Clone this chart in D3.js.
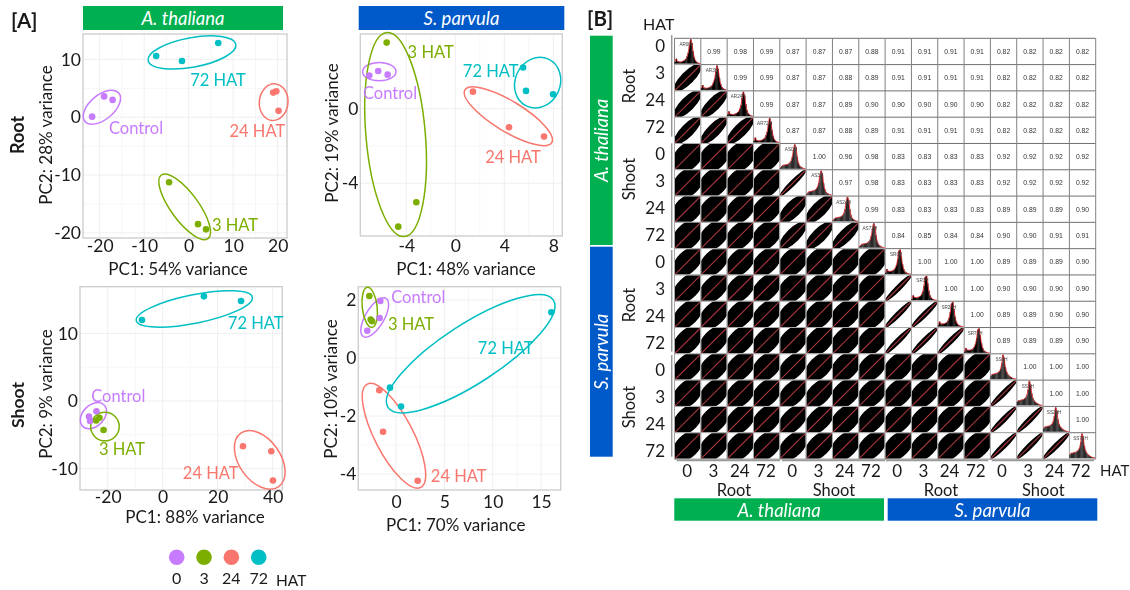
<!DOCTYPE html>
<html><head><meta charset="utf-8">
<script src="https://cdn.jsdelivr.net/npm/d3@7"></script>
<style>
html,body{margin:0;padding:0;background:#fff}
svg{display:block;filter:blur(0.35px)}
text{font-family:Lato,"Open Sans",sans-serif;fill:#1a1a1a}
.mat text{font-family:"Liberation Sans",Arial,sans-serif}
</style></head><body>
<div id="chart"></div>
<script>
// ---------- DATA ----------
const groups = ["Control","3 HAT","24 HAT","72 HAT"];
const legendLabels = ["0","3","24","72"];
const groupColors = ["#C77CFF","#7CAE00","#F8766D","#00BFC4"];

// PCA scores [PC1, PC2], three replicates per group, order as in `groups`
const thalianaRootScores = [
  [[-21.7,0.1],[-19.0,3.6],[-17.1,3.0]],
  [[-4.4,-11.25],[2.1,-18.5],[3.9,-19.4]],
  [[19.0,4.26],[19.7,4.5],[20.2,1.1]],
  [[-7.3,10.6],[-1.5,9.74],[6.65,12.85]]];
const parvulaRootScores = [
  [[-7.02,1.77],[-6.29,2.02],[-5.52,1.82]],
  [[-5.6,3.54],[-3.18,-5.02],[-4.65,-6.33]],
  [[1.44,0.91],[4.38,-1.0],[7.24,-1.5]],
  [[5.53,2.2],[5.77,0.95],[7.98,0.77]]];
const thalianaShootScores = [
  [[-26.8,-2.32],[-26.4,-2.96],[-24.1,-1.53]],
  [[-24.2,-2.9],[-23.0,-2.5],[-21.5,-4.3]],
  [[29.2,-6.72],[39.5,-7.46],[40.1,-11.8]],
  [[-7.53,12.0],[15.0,15.5],[28.5,14.8]]];
const parvulaShootScores = [
  [[-1.62,1.97],[-1.69,1.38],[-2.97,0.94]],
  [[-2.76,2.14],[-2.62,1.33],[-2.48,1.27]],
  [[-1.73,-1.11],[-1.34,-2.54],[2.24,-4.23]],
  [[16.06,1.58],[-0.62,-1.02],[0.52,-1.67]]];

// Hand-drawn group ellipses: centre PC1, PC2, major-axis tip PC1, PC2, minor/major ratio
const thalianaRootEllipses = [[-19.5,1.73,-15.7,4.2,.55],[-0.9,-15.5,4.34,-21.0,.35],[19.1,2.6,19.5,5.76,.78],[0.74,11.2,10.6,12.6,.33]];
const parvulaRootEllipses = [[-6.2,1.98,-4.84,1.98,.55],[-4.87,-1.39,-4.16,-6.86,.29],[4.33,-0.41,7.87,-1.82,.3],[6.72,1.39,7.6,2.65,.87]];
const thalianaShootEllipses = [[-25.2,-2.18,-21.3,-0.59,.7],[-21,-3.8,-15.8,-3.8,1],[35.3,-8.74,42.2,-12.7,.63],[11.5,13.63,32.6,15.36,.24]];
const parvulaShootEllipses = [[-2.2,1.4,-1.03,2.06,.42],[-2.72,1.75,-2.48,1.06,.37],[-0.21,-2.68,2.55,-4.46,.33],[7.72,0.15,16.27,2.0,.3]];

const sampleNames = ["AR0H","AR3H","AR24H","AR72H","AS0H","AS3H","AS24H","AS72H","SR0H","SR3H","SR24H","SR72H","SS0H","SS3H","SS24H","SS72H"];
const hourLabels = ["0","3","24","72"];
// Upper triangle of the correlation matrix, row by row
const corrUpper = [
  [.99,.98,.99,.87,.87,.87,.88,.91,.91,.91,.91,.82,.82,.82,.82],
  [.99,.99,.87,.87,.88,.89,.91,.91,.91,.91,.82,.82,.82,.82],
  [.99,.87,.87,.89,.90,.90,.90,.90,.90,.82,.82,.82,.82],
  [.87,.87,.88,.89,.91,.91,.91,.91,.82,.82,.82,.82],
  [1.00,.96,.98,.83,.83,.83,.83,.92,.92,.92,.92],
  [.97,.98,.83,.83,.83,.83,.92,.92,.92,.92],
  [.99,.83,.83,.83,.83,.89,.89,.89,.90],
  [.84,.85,.84,.84,.90,.90,.91,.91],
  [1.00,1.00,1.00,.89,.89,.89,.90],
  [1.00,1.00,.90,.90,.90,.90],
  [1.00,.89,.89,.90,.90],
  [.89,.89,.89,.90],
  [1.00,1.00,1.00],
  [1.00,1.00],
  [1.00]];
// Relative histogram heights on the diagonal, one profile per tissue
const histThalianaRoot = [.07,.2,.09,.08,.07,.07,.09,.11,.14,.19,.3,.45,.75,1,.85,.5,.25,.12,.06,.03,.01,0];
const histThalianaShoot = [.04,.1,.14,.15,.16,.17,.18,.21,.25,.33,.5,.8,1,.88,.5,.25,.13,.08,.05,.02,.01,0];
const histParvulaRoot = [.05,.2,.12,.11,.11,.12,.14,.17,.24,.36,.6,.95,1,.72,.4,.2,.1,.05,.03,.01,0,0];
const histParvulaShoot = [.14,.2,.2,.22,.23,.24,.28,.32,.42,.65,1,.85,.5,.3,.2,.14,.1,.07,.04,.02,.01,0];

// ---------- LAYOUT ----------
const panels = [
 {scores:thalianaRootScores, ell:thalianaRootEllipses, rect:[83,287,34,238], xd:[-23.75,22.1], yd:[14.4,-20.9],
  xt:[-20,-10,0,10,20], yt:[10,0,-10,-20], xTitle:"PC1: 54% variance", yTitle:"PC2: 28% variance",
  xTitlePos:[178,268], yTitlePos:[45,135], xLabY:248,
  labels:[[136,128],[235,225],[257.3,131],[218,79.7]]},
 {scores:parvulaRootScores, ell:parvulaRootEllipses, rect:[360.3,562.3,34,236], xd:[-7.75,8.73], yd:[4.0,-6.83],
  xt:[-4,0,4,8], yt:[0,-4], xTitle:"PC1: 48% variance", yTitle:"PC2: 19% variance",
  xTitlePos:[466,268], yTitlePos:[331,133], xLabY:248,
  labels:[[390,93],[430.7,52],[513,157],[490.7,70.7]]},
 {scores:thalianaShootScores, ell:thalianaShootEllipses, rect:[80,282.3,286.7,490], xd:[-30.07,43.5], yd:[16.93,-13.2],
  xt:[-20,0,20,40], yt:[10,0,-10], xTitle:"PC1: 88% variance", yTitle:"PC2: 9% variance",
  xTitlePos:[195,516], yTitlePos:[45,394], xLabY:499,
  labels:[[118.3,395.7],[122,449.3],[210.7,473.3],[255.7,322.7]]},
 {scores:parvulaShootScores, ell:parvulaShootEllipses, rect:[358.3,560.7,286.7,490], xd:[-3.9,17.03], yd:[2.46,-4.55],
  xt:[0,5,10,15], yt:[2,0,-2,-4], xTitle:"PC1: 70% variance", yTitle:"PC2: 10% variance",
  xTitlePos:[455.7,524.3], yTitlePos:[330,389], xLabY:504,
  labels:[[418.3,296.7],[411,324.3],[458.7,475.7],[505.7,348.3]]}
];
const GREEN="#00B050", BLUE="#0059C9";
const strips = [
 [83,6,200,24,GREEN,"A. thaliana",0],[358.7,6,205.6,24,BLUE,"S. parvula",0],
 [590,35.7,22.7,209.3,GREEN,"A. thaliana",1],[590,246.7,22.7,210,BLUE,"S. parvula",1],
 [674.3,498.3,209.7,22.4,GREEN,"A. thaliana",0],[887.7,498.3,209.6,22.4,BLUE,"S. parvula",0]];

const svg = d3.select("#chart").append("svg").attr("width",1130).attr("height",590);
const txt = (x,y,s,size,o={})=>{
  const t = svg.append("text").attr("text-anchor",o.anchor||"middle").attr("dominant-baseline","central")
    .attr("font-size",size).attr("font-weight",o.bold?700:400).attr("font-style",o.italic?"italic":"normal")
    .style("fill",o.fill||"#1a1a1a").text(s);
  t.attr("transform",`translate(${x},${y})`+(o.rot?` rotate(${o.rot})`:""));
  return t;
};

// strips
strips.forEach(([x,y,w,h,c,s,v])=>{
  svg.append("rect").attr("x",x).attr("y",y).attr("width",w).attr("height",h).attr("fill",c);
  txt(x+w/2,y+h/2,s,18.5,{italic:true,fill:"#fff",rot:v?-90:0});
});

// ---------- PCA PANELS ----------
panels.forEach(p=>{
  const [l,r,t,b]=p.rect;
  const x=d3.scaleLinear().domain(p.xd).range([l,r]);
  const y=d3.scaleLinear().domain(p.yd).range([t,b]);
  const g=svg.append("g");
  const minor=a=>a.slice(1).map((v,i)=>(v+a[i])/2);
  g.selectAll(".mnx").data(minor(p.xt)).join("line").attr("x1",x).attr("x2",x).attr("y1",t).attr("y2",b).attr("stroke","#f7f7f7");
  g.selectAll(".mny").data(minor(p.yt)).join("line").attr("y1",y).attr("y2",y).attr("x1",l).attr("x2",r).attr("stroke","#f7f7f7");
  g.selectAll(".mjx").data(p.xt).join("line").attr("x1",x).attr("x2",x).attr("y1",t).attr("y2",b).attr("stroke","#efefef");
  g.selectAll(".mjy").data(p.yt).join("line").attr("y1",y).attr("y2",y).attr("x1",l).attr("x2",r).attr("stroke","#efefef");
  g.append("rect").attr("x",l).attr("y",t).attr("width",r-l).attr("height",b-t).attr("fill","none").attr("stroke","#cfcfcf").attr("stroke-width",1.4);
  // axes (labels only)
  const ax=g.append("g").attr("transform",`translate(0,${p.xLabY-8.5})`)
    .call(d3.axisBottom(x).tickValues(p.xt).tickSize(0).tickPadding(0).tickFormat(d=>String(d)));
  const ay=g.append("g").attr("transform",`translate(${l},0)`)
    .call(d3.axisLeft(y).tickValues(p.yt).tickSize(0).tickPadding(2).tickFormat(d=>String(d)));
  [ax,ay].forEach(a=>{a.select(".domain").remove();a.selectAll("text").attr("font-size",17.5).attr("font-family","Lato").style("fill","#1a1a1a");});
  txt(p.xTitlePos[0],p.xTitlePos[1],p.xTitle,17);
  txt(p.yTitlePos[0],p.yTitlePos[1],p.yTitle,17,{rot:-90});
  // ellipses
  p.ell.forEach((e,i)=>{
    const [cx,cy,tx,ty,ratio]=e;
    const px=x(cx),py=y(cy),dx=x(tx)-px,dy=y(ty)-py,a=Math.hypot(dx,dy);
    g.append("ellipse").attr("cx",0).attr("cy",0).attr("rx",a).attr("ry",a*ratio)
      .attr("transform",`translate(${px},${py}) rotate(${Math.atan2(dy,dx)*180/Math.PI})`)
      .attr("fill","none").attr("stroke",groupColors[i]).attr("stroke-width",1.5);
  });
  // points
  p.scores.forEach((pts,i)=>{
    g.selectAll(null).data(pts).join("circle").attr("cx",d=>x(d[0])).attr("cy",d=>y(d[1])).attr("r",3.3).attr("fill",groupColors[i]);
  });
  p.labels.forEach((pos,i)=>txt(pos[0],pos[1],groups[i],16.5,{fill:groupColors[i]}));
});

txt(11,20,"[A]",20.5,{anchor:"start",bold:true});
txt(587,18,"[B]",20.5,{anchor:"start",bold:true});
txt(17,135,"Root",18,{bold:true,rot:-90});
txt(17,405,"Shoot",17.5,{bold:true,rot:-90});

// legend
const legendX=d3.scalePoint().domain(legendLabels).range([176.7,258.7]);
legendLabels.forEach((s,i)=>{
  svg.append("circle").attr("cx",legendX(s)).attr("cy",557.3).attr("r",7.8).attr("fill",groupColors[i]);
  txt(legendX(s),577.7,s,16);
});
txt(276,580,"HAT",15.5,{anchor:"start"});

// ---------- CORRELATION MATRIX ----------
const m=svg.append("g").attr("class","mat");
const pos=d3.scaleBand().domain(d3.range(16)).range([674.5,1095.7]);
const ypos=d3.scaleBand().domain(d3.range(16)).range([38.3,459]);
const cw=pos.bandwidth(), ch=ypos.bandwidth();
const inset=.5;
m.append("defs").append("clipPath").attr("id","cellClip").append("rect")
  .attr("x",inset).attr("y",inset).attr("width",cw-2*inset).attr("height",ch-2*inset);
const halfWidth=d3.scaleLinear().domain([.82,.87,.92,.96,.99,1]).range([11.5,12.5,10.5,8,6.5,3]);
const corrAt=(r,c)=>corrUpper[Math.min(r,c)][Math.abs(r-c)-1];
const histFor=i=>i<4?histThalianaRoot:i<8?histThalianaShoot:i<12?histParvulaRoot:histParvulaShoot;

// grid, below the marks
d3.range(17).forEach(i=>{
  const xx=674.5+i*cw, yy=38.3+i*ch;
  m.append("line").attr("x1",xx).attr("x2",xx).attr("y1",38.3).attr("y2",459).attr("stroke","#808080").attr("stroke-width",1);
  m.append("line").attr("y1",yy).attr("y2",yy).attr("x1",674.5).attr("x2",1095.7).attr("stroke","#707070").attr("stroke-width",1);
});

d3.range(16).forEach(r=>d3.range(16).forEach(c=>{
  const cell=m.append("g").attr("transform",`translate(${pos(c)},${ypos(r)})`);
  if(r<c){
    cell.append("text").attr("x",cw/2).attr("y",ch/2).attr("text-anchor","middle").attr("dominant-baseline","central")
      .attr("font-size",6.8).style("fill","#333").text(corrAt(r,c).toFixed(2));
  } else if(r>c){
    const v=corrAt(r,c);
    cell.append("rect").attr("width",cw).attr("height",ch).attr("fill","#fff").attr("stroke","#a8a8a8").attr("stroke-width",1);
    const inner=cell.append("g").attr("clip-path","url(#cellClip)");
    inner.append("ellipse").attr("rx",cw*.72).attr("ry",halfWidth(v))
      .attr("transform",`translate(${cw/2},${ch/2}) rotate(-45)`).attr("fill","#000");
    inner.append("line").attr("x1",0).attr("y1",ch).attr("x2",cw).attr("y2",0).attr("stroke","#A83840").attr("stroke-width",1.1);
  } else {
    const h=histFor(r);
    const hx=d3.scaleBand().domain(d3.range(h.length)).range([0,cw]);
    const hy=d3.scaleLinear().domain([0,1]).range([ch-1,1]);
    cell.selectAll("rect").data(h).join("rect").attr("x",(d,i)=>hx(i)).attr("y",d=>hy(d)).attr("width",hx.bandwidth()+.2)
      .attr("height",d=>hy(0)-hy(d)).attr("fill",r<4||(r>7&&r<12)?"#000":"#2a2a2a");
    cell.append("path").datum(h).attr("fill","none").attr("stroke","#E0262A").attr("stroke-width",.9)
      .attr("d",d3.line().x((d,i)=>hx(i)+hx.bandwidth()/2).y(hy).curve(d3.curveCatmullRom));
    cell.append("text").attr("x",cw*.42).attr("y",6).attr("text-anchor","middle").attr("dominant-baseline","central")
      .attr("font-size",4.6).style("fill","#444").text(sampleNames[r]);
  }
}));

// brackets
const tissueSpans=[[35,136.7],[143.3,248],[250,351.7],[355,456.7]];
tissueSpans.forEach(s=>svg.append("line").attr("x1",671.7).attr("x2",671.7).attr("y1",s[0]).attr("y2",s[1]).attr("stroke","#999").attr("stroke-width",1.5));
const tissueSpansX=[[676.7,780],[782,885],[886,988.3],[991.7,1094]];
tissueSpansX.forEach(s=>svg.append("line").attr("y1",460.5).attr("y2",460.5).attr("x1",s[0]).attr("x2",s[1]).attr("stroke","#999").attr("stroke-width",1.5));

// row/col labels
const rowLabelY=d3.scaleLinear().domain([0,15]).range([45,450.7]);
const colLabelX=d3.scaleLinear().domain([0,15]).range([687.3,1080.7]);
d3.range(16).forEach(i=>{
  txt(665,rowLabelY(i),hourLabels[i%4],17,{anchor:"end"});
  txt(colLabelX(i),470,hourLabels[i%4],17);
});
txt(643,23,"HAT",16,{anchor:"start"});
txt(1100,470,"HAT",15,{anchor:"start"});
[["Root",86],["Shoot",179],["Root",305],["Shoot",407]].forEach(([s,y])=>txt(629,y,s,16.5,{rot:-90}));
[["Root",734],["Shoot",834],["Root",941],["Shoot",1043.3]].forEach(([s,x])=>txt(x,490,s,16.5));
</script>
</body></html>
